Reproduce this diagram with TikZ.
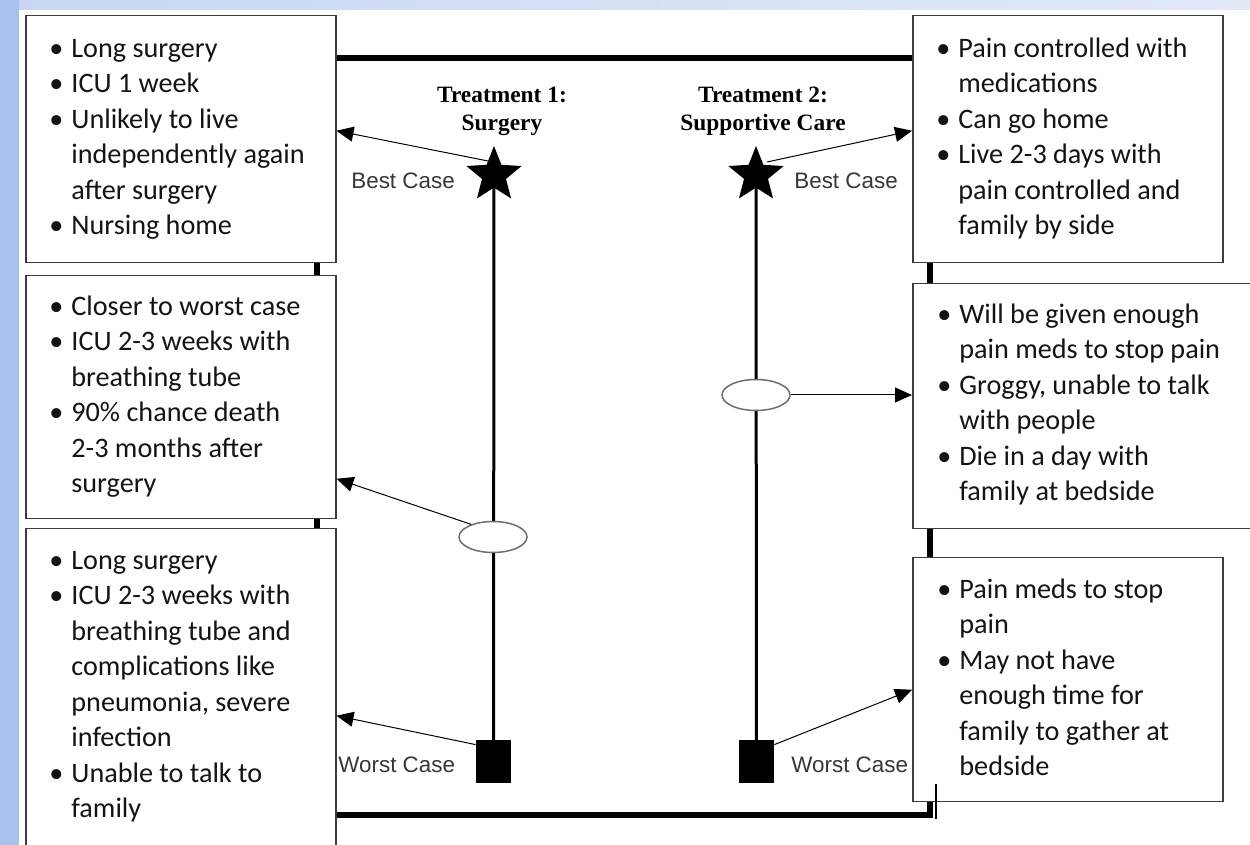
\documentclass[tikz,border=0pt]{standalone}
\usepackage{fontspec}
\setmainfont{Carlito}
\newfontfamily\titlefont{Liberation Serif}
\newfontfamily\labelfont{Liberation Sans}
\usetikzlibrary{shapes.geometric,arrows.meta,calc}
\definecolor{bgleft}{RGB}{169,194,236}
\definecolor{bgtopA}{RGB}{200,216,242}
\definecolor{bgtopB}{RGB}{226,234,248}
\definecolor{boxline}{RGB}{60,60,60}
\definecolor{labelgray}{RGB}{55,55,55}
\definecolor{txt}{RGB}{20,20,20}
\definecolor{ellline}{RGB}{110,110,110}
\newcommand\bl[1]{\makebox[11pt][l]{\textbullet}#1}
\newcommand\cl[1]{\hspace*{11pt}#1}
\begin{document}
\begin{tikzpicture}[x=0.5pt,y=-0.5pt,
  box/.style={draw=boxline,line width=0.75pt,fill=white,rectangle,anchor=north west,inner sep=0pt},
  btxt/.style={anchor=north west,inner sep=0pt,align=left,text=txt,font=\fontsize{14.1}{17.75}\selectfont},
  frameline/.style={line width=2.6pt,line join=miter},
  tl/.style={line width=1.5pt},
  arr/.style={line width=0.5pt,-{Triangle[length=8.5pt,width=7.5pt]}},
  ttl/.style={anchor=north,align=center,inner sep=0pt,font=\titlefont\bfseries\fontsize{11.7}{14}\selectfont},
  case/.style={anchor=base west,inner sep=0pt,text=labelgray,font=\labelfont\fontsize{11.2}{13}\selectfont},
  starnode/.style={star,star points=5,star point ratio=2.3,minimum size=29pt,fill=black,inner sep=0pt},
  sqnode/.style={rectangle,fill=black,minimum width=17.5pt,minimum height=21.5pt,inner sep=0pt},
  ellnode/.style={ellipse,draw=ellline,line width=0.75pt,fill=white,minimum width=34pt,minimum height=15.5pt,inner sep=0pt}]
\useasboundingbox (0,0) rectangle (1250,845);
\clip (0,0) rectangle (1250,845);
% background
\shade[left color=bgtopA,right color=bgtopB] (0,0) rectangle (1250,845);
\fill[bgleft] (0,0) rectangle (19,845);
\fill[white] (19,10) rectangle (1250,845);
% thick frame
\draw[frameline] (317,58) rectangle (930,815);
% boxes
\node[box,minimum width=155pt,minimum height=123.5pt] (L1) at (25,15) {};
\node[box,minimum width=155pt,minimum height=121.5pt] (L2) at (25,275) {};
\node[box,minimum width=155pt,minimum height=170pt] (L3) at (25,528) {};
\node[box,minimum width=155pt,minimum height=123.5pt] (R1) at (912,15) {};
\node[box,minimum width=176pt,minimum height=122.5pt] (R2) at (912,283) {};
\node[box,minimum width=155pt,minimum height=122pt] (R3) at (912,557) {};
% box texts
\node[btxt] (L1t) at (49,32.1) {\strut\bl{Long surgery}\\\bl{ICU 1 week}\\\bl{Unlikely to live}\\\cl{independently again}\\\cl{after surgery}\\\bl{Nursing home}};
\node[btxt] (L2t) at (49,290.1) {\strut\bl{Closer to worst case}\\\bl{ICU 2-3 weeks with}\\\cl{breathing tube}\\\bl{90\% chance death}\\\cl{2-3 months after}\\\cl{surgery}};
\node[btxt] (L3t) at (49,544.1) {\strut\bl{Long surgery}\\\bl{ICU 2-3 weeks with}\\\cl{breathing tube and}\\\cl{complications like}\\\cl{pneumonia, severe}\\\cl{infection}\\\bl{Unable to talk to}\\\cl{family}};
\node[btxt] (R1t) at (936,32.1) {\strut\bl{Pain controlled with}\\\cl{medications}\\\bl{Can go home}\\\bl{Live 2-3 days with}\\\cl{pain controlled and}\\\cl{family by side}};
\node[btxt] (R2t) at (937,298.1) {\strut\bl{Will be given enough}\\\cl{pain meds to stop pain}\\\bl{Groggy, unable to talk}\\\cl{with people}\\\bl{Die in a day with}\\\cl{family at bedside}};
\node[btxt] (R3t) at (937,573.1) {\strut\bl{Pain meds to stop}\\\cl{pain}\\\bl{May not have}\\\cl{enough time for}\\\cl{family to gather at}\\\cl{bedside}};
% titles
\node[ttl] (T1) at (502,82.4) {\strut Treatment 1:\\Surgery};
\node[ttl] (T2) at (763,82.4) {\strut Treatment 2:\\Supportive Care};
% timeline markers
\node[starnode] (SL) at (494,175) {};
\node[starnode] (SR) at (756,175) {};
\node[sqnode] (QL) at (493.5,761.5) {};
\node[sqnode] (QR) at (756.5,761.5) {};
\draw[tl] (SL.center) -- (QL.center);
\draw[tl] (SR.center) -- (QR.center);
\node[ellnode] (EL) at (493,537) {};
\node[ellnode] (ER) at (756,395) {};
% labels
\node[case] (BL) at (351,189) {Best Case};
\node[case] (BR) at (794,189) {Best Case};
\node[case] (WL) at (338,773) {Worst Case};
\node[case] (WR) at (791,772) {Worst Case};
% arrows
\draw[arr] ([shift={(-3pt,7pt)}]SL.center) -- ([yshift=4.25pt]L1.east);
\draw[arr] ([shift={(5.5pt,6.5pt)}]SR.center) -- ([yshift=4.25pt]R1.west);
\draw[arr] (EL.150) -- ([yshift=-40.75pt]L2.east);
\draw[arr] (ER.east) -- (ER.east -| R2.west);
\draw[arr] ([yshift=-2.5pt]QL.north west) -- ([yshift=-8.5pt]L3.east);
\draw[arr] ([yshift=-2.5pt]QR.north east) -- ([yshift=-5pt]R3.west);
% small mark at bottom right
\draw[line width=0.75pt] (936,784) -- (936,819);
\end{tikzpicture}
\end{document}
